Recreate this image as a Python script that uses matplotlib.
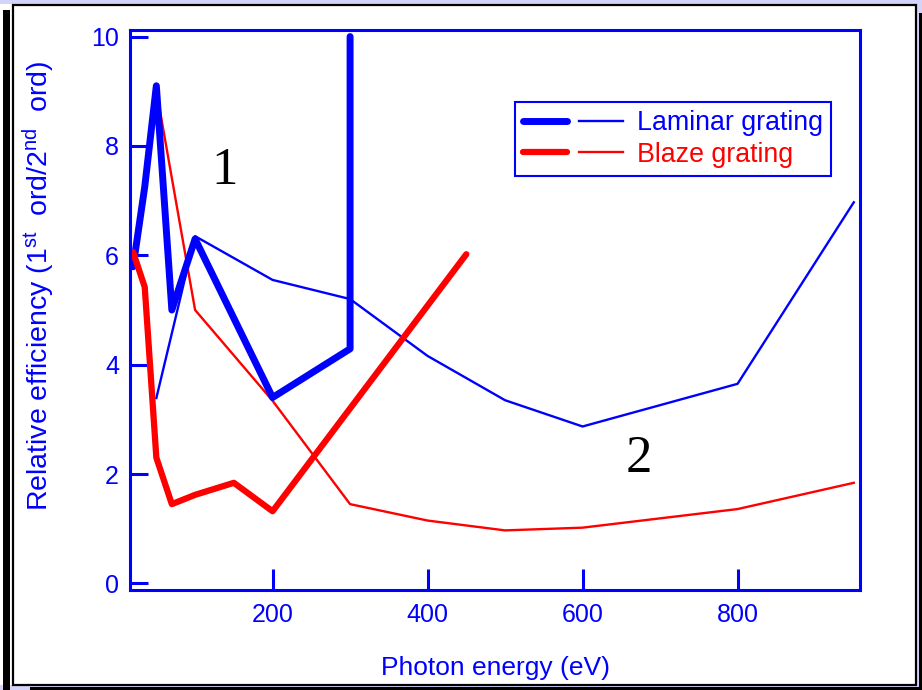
import numpy as np
import matplotlib
matplotlib.use('Agg')
import matplotlib.pyplot as plt
from matplotlib.patches import Rectangle
from matplotlib.legend_handler import HandlerTuple

plt.rcParams['font.family'] = ['Liberation Sans', 'DejaVu Sans']
plt.rcParams['mathtext.default'] = 'regular'

# laminar grating, thick = first curve, thin = second curve
lam_thick_x = [20, 35, 50, 70, 100, 200, 300, 300]
lam_thick_y = [5.79, 7.25, 9.1, 5.0, 6.3, 3.4, 4.29, 10.0]
lam_thin_x = [50, 100, 200, 300, 400, 500, 600, 800, 950]
lam_thin_y = [3.39, 6.35, 5.55, 5.2, 4.16, 3.35, 2.87, 3.65, 6.97]

# blaze grating
blz_thick_x = [20, 35, 50, 70, 100, 150, 200, 450]
blz_thick_y = [6.06, 5.42, 2.3, 1.45, 1.62, 1.84, 1.32, 6.02]
blz_thin_x = [50, 100, 200, 300, 400, 500, 600, 800, 950]
blz_thin_y = [9.02, 5.0, 3.34, 1.45, 1.15, 0.97, 1.02, 1.36, 1.84]

xticks = [200, 400, 600, 800]
yticks = [0, 2, 4, 6, 8, 10]

BLUE = '#0000ff'
RED = '#ff0000'

fig = plt.figure(figsize=(9.22, 6.90), dpi=100)
fig.patch.set_facecolor('white')

# slide frame / shadow
W, H = 922.0, 690.0
def frect(x0, y0, x1, y1, color):
    fig.patches.append(Rectangle((x0 / W, 1 - y1 / H), (x1 - x0) / W, (y1 - y0) / H,
                                 transform=fig.transFigure, facecolor=color,
                                 edgecolor='none', zorder=-5))
frect(0, 0, 922, 4, '#d4d4fa')
frect(917, 0, 922, 690, '#d4d4fa')
frect(0, 685, 922, 690, '#d4d4fa')
frect(3, 10, 10, 690, 'black')
frect(919, 13, 922, 690, 'black')
frect(30, 687, 922, 690, 'black')
fig.patches.append(Rectangle((12.5 / W, 1 - 684.5 / H), 903.5 / W, 680 / H,
                             transform=fig.transFigure, facecolor='none',
                             edgecolor='black', linewidth=1.6, zorder=-4))

ax = fig.add_axes([130 / W, 1 - 590 / H, 730 / W, 560 / H])

ax.plot(lam_thin_x, lam_thin_y, color=BLUE, lw=1.7)
ax.plot(blz_thin_x, blz_thin_y, color=RED, lw=1.7)
l1, = ax.plot(lam_thick_x, lam_thick_y, color=BLUE, lw=5, solid_joinstyle='round',
              solid_capstyle='round')
l2, = ax.plot(blz_thick_x, blz_thick_y, color=RED, lw=4.5, solid_joinstyle='round',
              solid_capstyle='round')

ax.set_xlim(16, 958)
ax.set_ylim(-0.12, 10.12)
ax.set_xticks(xticks)
ax.set_yticks(yticks)

for s in ax.spines.values():
    s.set_color(BLUE)
    s.set_linewidth(2.2)
ax.tick_params(axis='both', direction='in', colors=BLUE, labelsize=18, width=2.2)
ax.tick_params(axis='x', length=15, pad=9)
ax.tick_params(axis='y', length=13, pad=8)

ax.set_xlabel('Photon energy (eV)', color=BLUE, fontsize=19)
ax.set_ylabel('Relative efficiency (1$^{st}$  ord/2$^{nd}$  ord)', color=BLUE, fontsize=20.5)
ax.xaxis.set_label_coords(0.5, -0.118)
ax.yaxis.set_label_coords(-0.1, 0.543)

ax.text(138, 7.54, '1', family='Liberation Serif', fontsize=38, ha='center', va='center')
ax.text(673, 2.27, '2', family='Liberation Serif', fontsize=38, ha='center', va='center')

t1, = ax.plot([], [], color=BLUE, lw=1.7)
t2, = ax.plot([], [], color=RED, lw=1.7)
leg = ax.legend([(l1, t1), (l2, t2)], ['Laminar grating', 'Blaze grating'],
                handler_map={tuple: HandlerTuple(ndivide=None, pad=0.48)},
                loc='upper left', bbox_to_anchor=(0.527, 0.871), borderaxespad=0,
                fontsize=19.3, handlelength=3.75, handletextpad=0.5, labelspacing=0.2,
                borderpad=0.3, fancybox=False, framealpha=1)
leg.get_frame().set_edgecolor(BLUE)
leg.get_frame().set_linewidth(1.5)
for t, c in zip(leg.get_texts(), [BLUE, RED]):
    t.set_color(c)

fig.savefig('out.png', dpi=100)
